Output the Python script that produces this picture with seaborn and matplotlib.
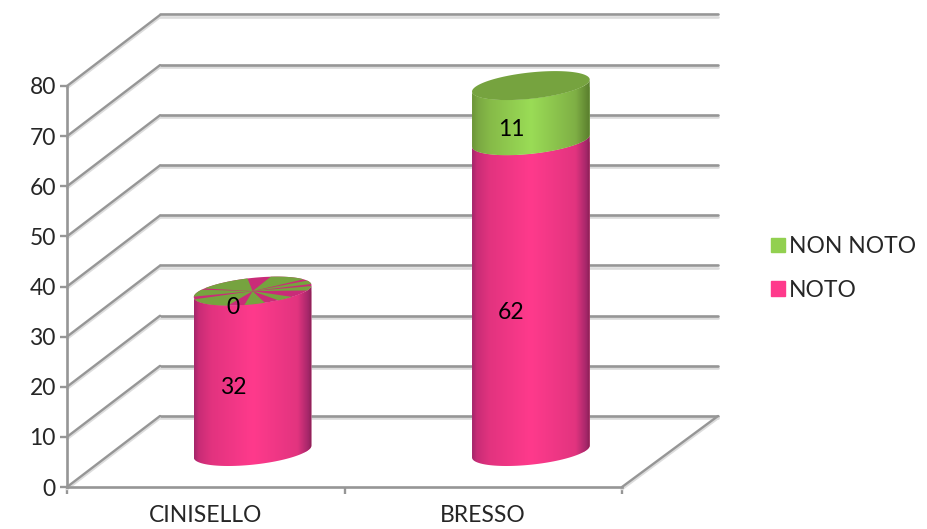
import numpy as np
import pandas as pd
import matplotlib
matplotlib.use("Agg")
import matplotlib.pyplot as plt
import matplotlib.patheffects as pe
from matplotlib.colors import LinearSegmentedColormap
from matplotlib.patches import Patch, PathPatch, Polygon
from matplotlib.path import Path
import seaborn as sns

sns.set_style("white")
plt.rcParams["font.family"] = ["Lato", "DejaVu Sans"]

categories = ["CINISELLO", "BRESSO"]
noto = [32, 62]
non_noto = [0, 11]
y_ticks = [0, 10, 20, 30, 40, 50, 60, 70, 80]
series_names = ["NON NOTO", "NOTO"]

W, H = 927, 529
GREY = "#969696"
PINK = "#FF3A8C"
GREEN = "#92D050"
GREEN_TOP = "#76A33F"
PINK_TOP = "#C92C78"
FS = 16.5

# angles (deg) of the green slices on the flat top of the empty segment
star_slices = [(262, 282), (190, 245), (150, 178), (95, 145), (30, 72),
               (5, 22), (338, 356), (296, 312)]

pink_map = LinearSegmentedColormap.from_list(
    "pink", [(0, "#A3266A"), (0.04, "#C82C76"), (0.15, "#E2337F"), (0.5, PINK),
             (0.88, "#E2347F"), (0.97, "#A5276A"), (1, "#8A1F53")])
green_map = LinearSegmentedColormap.from_list(
    "green", [(0, "#6C9438"), (0.05, "#7AA842"), (0.15, "#86BA48"), (0.5, "#9ADC56"),
              (0.88, "#7FAF45"), (1, "#597D2D")])


def px_rect(left, top, right, bottom):
    return [left / W, 1 - bottom / H, (right - left) / W, (bottom - top) / H]


def arc(cx, cy, a, b, s, t):
    return cx + a * np.cos(t), cy + b * np.sin(t) + s * np.cos(t)


fig = plt.figure(figsize=(W / 100, H / 100), dpi=100)

# back wall, floor/front plane and the plane the cylinders stand on
back = fig.add_axes(px_rect(160, 14.5, 718, 416), facecolor="none")
front = fig.add_axes(px_rect(67, 86, 622, 487), facecolor="none")
mid = fig.add_axes(px_rect(113.5, 50.5, 670, 451.5), facecolor="none")

shadow = [pe.SimpleLineShadow(offset=(0, -1.6), shadow_color="#dcdcdc", alpha=1), pe.Normal()]

back.set_xlim(-0.5, 1.5)
back.set_ylim(0, 80)
back.axis("off")
for v in y_ticks:
    back.plot([-0.5, 1.5], [v, v], color=GREY, lw=1.9, path_effects=shadow,
              clip_on=False, solid_capstyle="round")

front.set_xlim(-0.5, 1.5)
front.set_ylim(0, 80)
depth_x = 93 / 277.5
depth_y = 71 / 5.0125
for v in y_ticks:
    front.plot([-0.5, -0.5 + depth_x], [v, v + depth_y], color=GREY, lw=1.7,
               path_effects=shadow, clip_on=False)
front.plot([1.5, 1.5 + 96 / 277.5], [0, depth_y], color=GREY, lw=1.7,
           path_effects=shadow, clip_on=False)

sns.despine(ax=front, top=True, right=True)
for side in ["left", "bottom"]:
    front.spines[side].set_color(GREY)
    front.spines[side].set_linewidth(1.9)
front.set_yticks(y_ticks)
front.set_xticks([0, 1])
front.set_xticklabels(categories)
front.set_xticks([-0.5, 0.5, 1.5], minor=True)
front.tick_params(axis="y", length=5, width=1.7, color=GREY, labelsize=FS, pad=3, left=True)
front.tick_params(axis="x", which="major", length=0, labelsize=FS, pad=13)
front.tick_params(axis="x", which="minor", length=5, width=1.7, color=GREY, bottom=True)
front.set_xlabel("")
front.set_ylabel("")

# cylinders
df = pd.DataFrame({"place": categories, "NOTO": noto, "NON NOTO": non_noto})
sns.barplot(data=df, x="place", y="NOTO", color=PINK, width=0.423, saturation=1, ax=mid)
sns.barplot(data=df, x="place", y="NON NOTO", bottom=df["NOTO"], color=GREEN, width=0.423,
            saturation=1, ax=mid)
mid.set_xlim(-0.5, 1.5)
mid.set_ylim(0, 80)
mid.set_autoscale_on(False)
mid.axis("off")

B = 13.2 / 5.0125
S = 6 / 5.0125
t_low = np.linspace(np.pi, 2 * np.pi, 60)
t_full = np.linspace(0, 2 * np.pi, 120)
n = len(categories)

for i, bar in enumerate(mid.patches):
    cmap = pink_map if i < n else green_map
    x0, w = bar.get_x(), bar.get_width()
    y0, h = bar.get_y(), bar.get_height()
    cx, a = x0 + w / 2, w / 2
    if h > 0:
        lx, ly = arc(cx, y0, a, B, S, t_low)
        ux, uy = arc(cx, y0 + h, a, B, S, t_low[::-1])
        verts = np.column_stack([np.r_[lx, ux], np.r_[ly, uy]])
        outline = PathPatch(Path(np.vstack([verts, verts[0]])), transform=mid.transData,
                            fc="none", ec="none")
        mid.add_patch(outline)
        outline.set_clip_on(False)
        im = mid.imshow(np.linspace(0, 1, 256)[None, :], cmap=cmap, aspect="auto", zorder=3,
                        extent=[x0, x0 + w, y0 - B - S, y0 + h + B + S])
        im.set_clip_path(outline)
        im.set_clip_box(fig.bbox)
        bar.set_clip_path(outline)
        bar.set_clip_box(fig.bbox)
    else:
        bar.set_visible(False)

# flat top of each stack
for i in range(n):
    total = noto[i] + non_noto[i]
    bar = mid.patches[i]
    cx, a = bar.get_x() + bar.get_width() / 2, bar.get_width() / 2
    ex, ey = arc(cx, total, a, B, S, t_full)
    empty = non_noto[i] == 0
    mid.add_patch(Polygon(np.column_stack([ex, ey]), closed=True, fc=PINK_TOP if empty else GREEN_TOP,
                          ec="none", zorder=4, clip_on=False))
    if empty:
        for start, end in star_slices:
            tt = np.radians(np.linspace(start, end, 12))
            sx, sy = arc(cx, total, a, B, S, tt)
            mid.add_patch(Polygon(np.column_stack([np.r_[cx, sx], np.r_[total, sy]]), closed=True,
                                  fc=GREEN_TOP, ec="none", zorder=5, clip_on=False))

# value labels
for i in range(n):
    mid.text(i - 0.07, noto[i] / 2 - 3.2, str(noto[i]), ha="center", va="center",
             fontsize=FS, color="black", zorder=6, clip_on=False)
    mid.text(i - 0.07, noto[i] + non_noto[i] / 2 - 3.2, str(non_noto[i]), ha="center", va="center",
             fontsize=FS, color="black", zorder=6, clip_on=False)

handles = [Patch(color=GREEN, label=series_names[0]), Patch(color=PINK, label=series_names[1])]
fig.legend(handles=handles, loc="upper left", bbox_to_anchor=(764 / W, 1 - 229 / H), frameon=False,
           fontsize=FS, handlelength=0.6, handleheight=0.6, handletextpad=0.2,
           labelspacing=1.0, borderpad=0.3, borderaxespad=0)

fig.savefig("out.png", dpi=100)
